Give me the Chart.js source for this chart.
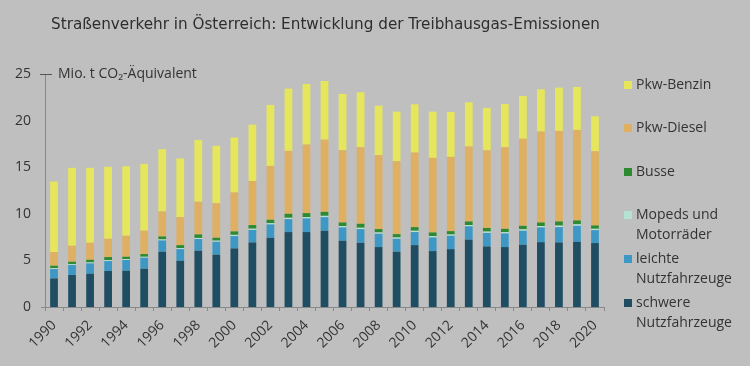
<!DOCTYPE html>
<html><head><meta charset="utf-8">
<script src="https://cdn.jsdelivr.net/npm/chart.js@4"></script>
<style>html,body{margin:0;padding:0;background:#bfbfbf;}#wrap{width:750px;height:366px;position:relative;}</style>
</head><body><div id="wrap"><canvas id="c" width="750" height="366"></canvas></div>
<script>
const titleText = 'Straßenverkehr in Österreich: Entwicklung der Treibhausgas-Emissionen';
const unitText = 'Mio. t CO₂-Äquivalent';
const years = ['1990','1991','1992','1993','1994','1995','1996','1997','1998','1999','2000','2001','2002','2003','2004','2005','2006','2007','2008','2009','2010','2011','2012','2013','2014','2015','2016','2017','2018','2019','2020'];
const yTicks = [0,5,10,15,20,25];
const schwere = [3.07,3.43,3.57,3.86,3.89,4.11,5.93,4.96,6.04,5.61,6.29,6.93,7.43,8.04,8.04,8.18,7.11,6.89,6.43,5.93,6.64,6.00,6.21,7.23,6.50,6.43,6.68,6.96,6.93,7.00,6.86];
const leichte = [1.00,1.07,1.11,1.07,1.15,1.18,1.21,1.25,1.25,1.39,1.32,1.34,1.43,1.39,1.46,1.46,1.43,1.47,1.43,1.39,1.40,1.46,1.43,1.43,1.45,1.46,1.50,1.58,1.64,1.71,1.39];
const mopeds = [0.09,0.09,0.10,0.10,0.10,0.10,0.11,0.11,0.12,0.12,0.13,0.13,0.13,0.14,0.14,0.14,0.14,0.14,0.14,0.14,0.14,0.14,0.14,0.14,0.14,0.14,0.15,0.15,0.16,0.16,0.14];
const busse = [0.27,0.27,0.29,0.33,0.25,0.29,0.32,0.32,0.38,0.31,0.37,0.39,0.37,0.43,0.43,0.43,0.39,0.43,0.36,0.36,0.39,0.40,0.36,0.38,0.39,0.36,0.38,0.38,0.45,0.42,0.36];
const diesel = [1.46,1.71,1.82,1.96,2.25,2.50,2.68,3.00,3.50,3.71,4.18,4.73,5.78,6.75,7.36,7.75,7.75,8.21,7.93,7.82,8.00,8.00,7.97,8.04,8.32,8.75,9.33,9.75,9.71,9.71,7.96];
const benzin = [7.57,8.36,8.04,7.72,7.46,7.18,6.68,6.29,6.64,6.15,5.89,6.04,6.54,6.68,6.50,6.29,6.04,5.90,5.31,5.32,5.18,4.96,4.82,4.74,4.57,4.65,4.60,4.54,4.65,4.61,3.75];
const seriesNames = ['schwere Nutzfahrzeuge','leichte Nutzfahrzeuge','Mopeds und Motorräder','Busse','Pkw-Diesel','Pkw-Benzin'];
const legendLines = [['schwere','Nutzfahrzeuge'],['leichte','Nutzfahrzeuge'],['Mopeds und','Motorräder'],['Busse'],['Pkw-Diesel'],['Pkw-Benzin']];
const colors = ['#1f4d62','#3d98c6','#b6e2d2','#2e8a30','#dfb062','#e6e65c'];
const seriesData = [schwere, leichte, mopeds, busse, diesel, benzin];

const FONT = "'Open Sans', 'Noto Sans', sans-serif";
const TXT = '#333333';

const decor = {
  id: 'decor',
  afterDraw(chart) {
    const ctx = chart.ctx;
    const y = chart.scales.y;
    ctx.save();
    // title
    ctx.fillStyle = '#2e2e2e';
    ctx.font = "15.5px 'DejaVu Sans Condensed', 'Liberation Sans Narrow', sans-serif";
    ctx.textBaseline = 'middle';
    ctx.textAlign = 'left';
    const w = ctx.measureText(titleText).width;
    ctx.save();
    ctx.translate(51, 25);
    ctx.scale(549 / w, 1);
    ctx.fillText(titleText, 0, 0);
    ctx.restore();
    // unit dash + label
    ctx.fillStyle = TXT;
    const y25 = y.getPixelForValue(25);
    ctx.strokeStyle = '#555';
    ctx.lineWidth = 1;
    ctx.beginPath();
    ctx.moveTo(40, Math.round(y25) + 0.5);
    ctx.lineTo(52, Math.round(y25) + 0.5);
    ctx.stroke();
    ctx.font = '14px ' + FONT;
    ctx.fillText(unitText, 58, y25);
    // zero tick
    const y0 = y.getPixelForValue(0);
    ctx.strokeStyle = '#888';
    ctx.beginPath();
    ctx.moveTo(41, Math.round(y0) + 0.5);
    ctx.lineTo(45, Math.round(y0) + 0.5);
    ctx.stroke();
    // legend
    const legY = [303, 259, 215, 172, 128, 85];
    chart.data.datasets.forEach((ds, i) => {
      const ly = legY[i];
      ctx.fillStyle = ds.backgroundColor;
      ctx.fillRect(624, ly - 4, 8, 8);
      ctx.fillStyle = TXT;
      ctx.font = '14px ' + FONT;
      legendLines[i].forEach((t, k) => ctx.fillText(t, 636, ly + k * 20));
    });
    ctx.restore();
  }
};

new Chart(document.getElementById('c'), {
  type: 'bar',
  data: {
    labels: years,
    datasets: seriesData.map((d, i) => ({
      label: seriesNames[i], data: d, backgroundColor: colors[i],
      borderWidth: 0, barPercentage: 1, categoryPercentage: 0.43
    }))
  },
  options: {
    responsive: false, animation: false, devicePixelRatio: 1,
    layout: { padding: { top: 74, right: 146, bottom: 0, left: 0 } },
    plugins: { legend: { display: false }, tooltip: { enabled: false }, title: { display: false } },
    scales: {
      x: {
        stacked: true,
        grid: { display: true, drawOnChartArea: false, drawTicks: true, tickLength: 4, color: '#888', offset: true },
        border: { color: '#888' },
        ticks: { autoSkip: false, maxRotation: 45, minRotation: 45, padding: 6, color: TXT, font: { family: FONT, size: 14 },
          callback: (v, i) => (i % 2 === 0 ? years[i] : '') },
        afterFit: s => { s.height = 59; }
      },
      y: {
        stacked: true, min: 0, max: 25,
        afterBuildTicks: s => { s.ticks = yTicks.map(v => ({ value: v })); },
        grid: { display: false },
        border: { color: '#888' },
        ticks: { padding: 6, color: TXT, font: { family: FONT, size: 14 } },
        afterFit: s => { s.width = 45; }
      }
    }
  },
  plugins: [decor]
});
</script></body></html>
